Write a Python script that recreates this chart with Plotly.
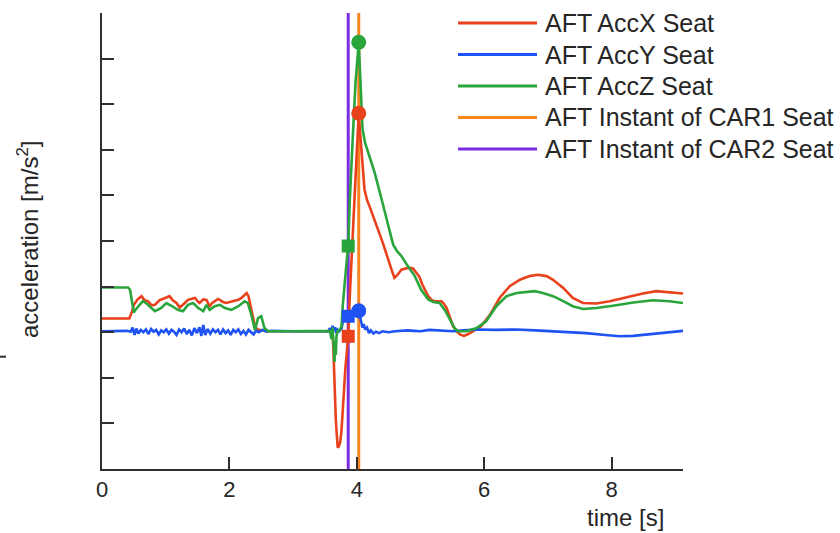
import plotly.graph_objects as go

# ---- measured seat accelerations (AFT position) ----
t_accx = [0.00, 0.43, 0.47, 0.50, 0.56, 0.62, 0.67, 0.72, 0.78, 0.83, 0.90, 0.98, 1.06, 1.11,
          1.17, 1.22, 1.25, 1.30, 1.35, 1.40, 1.46, 1.50, 1.53, 1.59, 1.64, 1.69, 1.73, 1.77,
          1.82, 1.85, 1.90, 1.95, 2.00, 2.08, 2.14, 2.19, 2.24, 2.27, 2.30, 2.33, 2.35, 2.37,
          2.40, 2.44, 2.48, 2.61, 3.00, 3.40, 3.58, 3.60, 3.62, 3.63, 3.64, 3.65, 3.67, 3.68,
          3.70, 3.72, 3.74, 3.76, 3.78, 3.80, 3.82, 3.84, 3.865, 3.89, 3.92, 3.94, 3.97, 4.00,
          4.03, 4.05, 4.07, 4.10, 4.12, 4.16, 4.20, 4.28, 4.34, 4.39, 4.45, 4.49, 4.55, 4.59,
          4.64, 4.70, 4.80, 4.88, 4.93, 4.98, 5.03, 5.07, 5.12, 5.18, 5.22, 5.33, 5.37, 5.41,
          5.46, 5.51, 5.56, 5.62, 5.68, 5.75, 5.82, 5.95, 6.09, 6.24, 6.40, 6.56, 6.71, 6.84,
          6.98, 7.08, 7.24, 7.39, 7.55, 7.76, 7.97, 8.23, 8.49, 8.70, 8.91, 9.12]
acc_x = [3.0, 3.0, 4.5, 6.0, 7.2, 7.9, 7.0, 6.8, 5.9, 6.0, 7.0, 7.5, 7.9, 7.0,
         6.4, 5.4, 5.7, 6.4, 7.1, 7.3, 7.5, 6.8, 6.4, 7.2, 7.1, 5.7, 6.4, 6.8,
         7.3, 7.1, 6.6, 6.4, 6.6, 6.8, 7.1, 7.5, 8.2, 8.6, 7.9, 6.0, 4.2, 3.0,
         1.3, 0.6, 0.5, 0.2, 0.2, 0.2, 0.2, 0.6, -0.5, -3.0, -8.2, -14.1, -19.0, -21.4,
         -25.3, -25.0, -24.0, -21.4, -17.8, -12.5, -8.0, -3.8, -0.9, 8.0, 15.5, 22.5, 31.0, 40.0,
         48.0, 44.0, 39.5, 35.0, 31.3, 29.0, 27.6, 24.7, 22.3, 20.3, 17.8, 15.9, 13.5, 11.9,
         12.6, 13.7, 14.1, 14.0, 13.2, 12.2, 10.4, 9.2, 7.9, 7.0, 6.8, 6.8, 6.2, 5.3,
         3.3, 1.3, 0.3, -0.5, -0.8, -0.4, 0.2, 1.3, 3.8, 7.5, 10.1, 11.5, 12.3, 12.6,
         12.3, 11.5, 9.7, 7.5, 6.4, 6.3, 6.8, 7.7, 8.5, 9.0, 8.7, 8.5]

t_accy = [0.00, 0.40, 0.45, 0.48, 0.51, 0.54, 0.57, 0.61, 0.65, 0.69, 0.73, 0.77, 0.81, 0.85,
          0.89, 0.93, 0.97, 1.01, 1.05, 1.09, 1.13, 1.17, 1.21, 1.25, 1.29, 1.33, 1.37, 1.41,
          1.45, 1.49, 1.53, 1.56, 1.59, 1.62, 1.66, 1.70, 1.74, 1.78, 1.82, 1.86, 1.90, 1.94,
          1.98, 2.02, 2.06, 2.10, 2.14, 2.18, 2.22, 2.26, 2.30, 2.34, 2.38, 2.42, 2.46, 2.52,
          2.58, 2.65, 2.80, 3.00, 3.30, 3.55, 3.58, 3.60, 3.62, 3.64, 3.66, 3.68, 3.70, 3.72,
          3.76, 3.79, 3.81, 3.84, 3.865, 3.90, 3.95, 4.00, 4.03, 4.06, 4.09, 4.11, 4.13, 4.16,
          4.19, 4.22, 4.26, 4.30, 4.35, 4.40, 4.50, 4.60, 4.70, 4.80, 4.90, 5.00, 5.14, 5.30,
          5.51, 5.67, 5.90, 6.19, 6.50, 6.80, 7.08, 7.35, 7.60, 7.90, 8.13, 8.34, 8.50, 8.65,
          8.90, 9.12]
acc_y = [0.2, 0.3, 0.1, 1.0, -0.6, 0.8, -0.3, 0.5, 0.0, 0.6, -0.4, 0.7, 0.1, 0.5,
         -0.5, 0.4, 0.0, 0.6, -0.3, 0.5, 0.1, -0.6, 0.6, 0.0, 0.8, -0.4, 0.5, -0.7,
         0.9, -0.2, 1.1, -0.8, 1.6, -0.6, 0.7, -0.3, 0.6, 0.0, 0.5, -0.5, 0.6, -0.2,
         0.4, -0.6, 0.5, 0.0, 0.6, -0.4, 0.3, -0.5, 0.5, 0.0, -0.5, 0.4, 0.0, 0.5,
         0.1, 0.3, 0.2, 0.2, 0.2, 0.2, 0.9, -0.3, 1.4, 0.3, 1.1, -0.2, 0.5, 0.2,
         0.8, 3.0, 4.5, 4.0, 3.5, 4.3, 4.4, 4.8, 4.7, 2.8, 1.0, 1.8, 0.6, 1.0,
         -0.2, 0.4, -0.3, 0.1, -0.2, 0.2, 0.0, 0.2, 0.3, 0.4, 0.3, 0.2, 0.5, 0.3,
         0.2, 0.4, 0.6, 0.5, 0.6, 0.4, 0.2, 0.0, -0.2, -0.6, -0.9, -0.8, -0.6, -0.3,
         0.0, 0.3]

t_accz = [0.00, 0.41, 0.44, 0.47, 0.50, 0.53, 0.57, 0.64, 0.70, 0.75, 0.83, 0.93, 1.01, 1.09,
          1.19, 1.27, 1.35, 1.43, 1.51, 1.59, 1.64, 1.69, 1.77, 1.85, 1.93, 2.03, 2.14, 2.24,
          2.29, 2.35, 2.40, 2.45, 2.50, 2.55, 2.61, 3.00, 3.50, 3.58, 3.60, 3.62, 3.64, 3.65,
          3.66, 3.67, 3.68, 3.70, 3.73, 3.76, 3.78, 3.81, 3.84, 3.865, 3.89, 3.94, 3.98, 4.03,
          4.05, 4.07, 4.09, 4.13, 4.18, 4.28, 4.39, 4.49, 4.57, 4.63, 4.70, 4.80, 4.91, 5.01,
          5.12, 5.20, 5.30, 5.38, 5.44, 5.49, 5.54, 5.59, 5.72, 5.88, 6.03, 6.19, 6.35, 6.51,
          6.66, 6.79, 6.92, 7.08, 7.24, 7.39, 7.55, 7.76, 8.02, 8.34, 8.65, 8.91, 9.12]
acc_z = [9.8, 9.8, 9.3, 6.5, 4.3, 5.0, 5.7, 6.8, 6.3, 5.7, 4.6, 5.3, 6.4, 5.8,
         4.9, 4.6, 6.0, 6.4, 5.3, 4.6, 6.0, 4.9, 5.7, 6.0, 5.3, 4.9, 5.7, 6.8,
         6.4, 3.5, 0.5, 3.1, 3.5, 0.9, 0.2, 0.2, 0.2, 0.3, -1.5, 1.0, -3.5, -6.5,
         -2.0, -5.0, -1.0, 0.3, 0.5, 1.3, 6.0, 11.5, 15.5, 18.9, 29.0, 43.8, 54.8, 63.6,
         57.7, 50.4, 44.5, 41.5, 39.5, 35.0, 29.1, 23.3, 19.2, 17.8, 16.7, 14.5, 12.3, 9.3,
         7.2, 6.6, 6.4, 4.9, 3.3, 2.0, 0.8, 0.2, 0.2, 0.9, 2.4, 5.7, 7.9, 8.6,
         8.8, 9.0, 8.6, 7.9, 6.8, 5.7, 5.1, 5.3, 5.8, 6.5, 7.0, 6.8, 6.4]

# ---- instants of the CAR events and the accelerations sampled there ----
t_car1 = 4.03
t_car2 = 3.865
car1_values = [48.0, 4.7, 63.6]   # X, Y, Z at CAR1 instant
car2_values = [-0.9, 3.5, 18.9]   # X, Y, Z at CAR2 instant

x_range = [0, 9.12]
y_range = [-30, 70]
x_ticks = [0, 2, 4, 6, 8]

names = ["AFT AccX Seat", "AFT AccY Seat", "AFT AccZ Seat",
         "AFT Instant of CAR1 Seat", "AFT Instant of CAR2 Seat"]
colors = ["#e8411c", "#1f52f2", "#2aa53c", "#f8841f", "#7b2ee0"]

TEXT = "#262626"
AXIS = "#303030"
FONT = "Liberation Sans, Arial, sans-serif"

fig = go.Figure()

# vertical event markers
fig.add_trace(go.Scatter(x=[t_car2, t_car2], y=y_range, mode="lines",
                         line=dict(color=colors[4], width=3), name=names[4]))
fig.add_trace(go.Scatter(x=[t_car1, t_car1], y=y_range, mode="lines",
                         line=dict(color=colors[3], width=3), name=names[3]))

# acceleration signals
for tt, vv, nm, col in [(t_accx, acc_x, names[0], colors[0]),
                        (t_accy, acc_y, names[1], colors[1]),
                        (t_accz, acc_z, names[2], colors[2])]:
    fig.add_trace(go.Scatter(x=tt, y=vv, mode="lines", name=nm,
                             line=dict(color=col, width=2.6)))

# sampled values at the event instants
fig.add_trace(go.Scatter(x=[t_car2] * 3, y=car2_values, mode="markers",
                         marker=dict(symbol="square", size=13, color=colors[:3]),
                         name="CAR2 samples"))
fig.add_trace(go.Scatter(x=[t_car1] * 3, y=car1_values, mode="markers",
                         marker=dict(symbol="circle", size=15, color=colors[:3]),
                         name="CAR1 samples"))

fig.update_layout(
    width=840, height=533,
    margin=dict(l=102, r=157, t=13, b=64),
    paper_bgcolor="white", plot_bgcolor="white",
    showlegend=False,
    font=dict(family=FONT, color=TEXT, size=22),
)
fig.update_xaxes(range=x_range, tickvals=x_ticks, showgrid=False, zeroline=False,
                 showline=True, linecolor=AXIS, linewidth=2,
                 ticks="inside", ticklen=12, tickwidth=2, tickcolor=AXIS,
                 tickfont=dict(size=22, color=TEXT, family=FONT))
fig.update_yaxes(range=y_range, dtick=10, tick0=-30, showgrid=False, zeroline=False,
                 showline=True, linecolor=AXIS, linewidth=2,
                 ticks="inside", ticklen=12, tickwidth=2, tickcolor=AXIS,
                 showticklabels=False)

# legend: swatch line + label per series
plot_w = 840 - 102 - 157
plot_h = 533 - 13 - 64


def px_x(px):
    return (px - 102) / plot_w


def px_y(py):
    return (533 - 64 - py) / plot_h


row_y = [23, 54.5, 86, 117.5, 149]
for i, ry in enumerate(row_y):
    fig.add_shape(type="line", xref="paper", yref="paper",
                  x0=px_x(458), x1=px_x(537), y0=px_y(ry), y1=px_y(ry),
                  line=dict(color=colors[i], width=3))
    fig.add_annotation(xref="paper", yref="paper", x=px_x(543), y=px_y(ry),
                       xanchor="left", yanchor="middle", showarrow=False,
                       text=names[i], font=dict(size=25, color=TEXT, family=FONT))

# axis titles
fig.add_annotation(xref="paper", yref="paper", x=px_x(625), y=px_y(517),
                   xanchor="center", yanchor="middle", showarrow=False,
                   text="time [s]", font=dict(size=24, color=TEXT, family=FONT))
fig.add_annotation(xref="paper", yref="paper", x=px_x(28), y=px_y(240),
                   xanchor="center", yanchor="middle", showarrow=False, textangle=-90,
                   text="acceleration [m/s<sup>2</sup>]",
                   font=dict(size=24, color=TEXT, family=FONT))

# small mark at the left margin
fig.add_shape(type="line", xref="paper", yref="paper",
              x0=px_x(0), x1=px_x(6), y0=px_y(356.7), y1=px_y(356.7),
              line=dict(color=AXIS, width=2))

fig.write_html("out.html")
